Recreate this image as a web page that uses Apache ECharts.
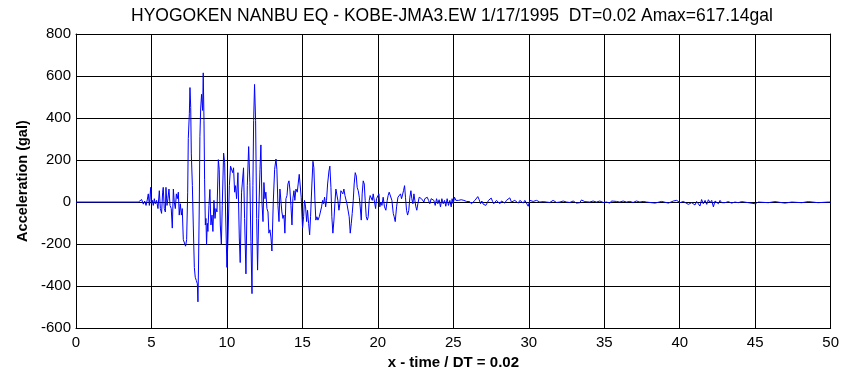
<!DOCTYPE html>
<html>
<head>
<meta charset="utf-8">
<title>KOBE-JMA3.EW</title>
<script src="https://cdn.jsdelivr.net/npm/echarts@6/dist/echarts.min.js"></script>
<style>
  html, body { margin: 0; padding: 0; background: #fff; }
</style>
</head>
<body>
<div id="myChart" style="width: 842px; height: 375px;"></div>
<script>
// time (s) / acceleration (gal)
var tOnset = [0, 4.13, 4.19, 4.26, 4.35, 4.46, 4.55, 4.64, 4.72, 4.79, 4.86, 4.95, 4.99, 5.06, 5.12, 5.19, 5.25, 5.34, 5.43, 5.52, 5.59, 5.67, 5.74, 5.78, 5.85, 5.92, 5.96, 6.03, 6.09, 6.16, 6.23, 6.31, 6.38, 6.45, 6.51, 6.58, 6.65, 6.71, 6.78, 6.84, 6.91, 6.98, 7.04];
var aOnset = [0, 0, 8, -8, 12, -10, 5, -16, 10, 39, -16, 70, -8, 8, -16, 16, -8, 8, -31, 54, -31, -54, 47, 70, -31, -47, 70, -16, 16, 62, -16, -31, -124, 62, 0, -31, 39, 16, 47, -62, -8, -62, -31];

var tPeak = [7.11, 7.18, 7.26, 7.33, 7.40, 7.44, 7.51, 7.55, 7.60, 7.64, 7.71, 7.77, 7.84, 7.90, 7.97, 8.04, 8.08, 8.12, 8.17, 8.21, 8.26, 8.32, 8.39, 8.43, 8.48, 8.52, 8.57, 8.61, 8.65, 8.70, 8.74, 8.81, 8.87];
var aPeak = [-179, -187, -210, -179, 47, 303, 420, 545, 451, 233, 78, -109, -311, -358, -373, -389, -475, -295, 0, 311, 443, 513, 436, 615, 389, 109, -109, -78, -202, -101, -140, -16, 60];

var tStrong = [8.94, 9.01, 9.07, 9.14, 9.21, 9.27, 9.34, 9.43, 9.49, 9.56, 9.63, 9.69, 9.78, 9.85, 9.91, 10.00, 10.07, 10.16, 10.24, 10.33, 10.38, 10.44, 10.51, 10.57, 10.64, 10.73, 10.82, 10.88, 10.97, 11.04, 11.10, 11.17, 11.26, 11.35, 11.44, 11.52, 11.59, 11.66, 11.72, 11.77, 11.83, 11.90, 11.97, 12.03, 12.10, 12.19, 12.25, 12.32, 12.39, 12.45, 12.52, 12.58, 12.65, 12.72, 12.78, 12.85, 12.92, 12.98, 13.07, 13.16, 13.25, 13.31, 13.38, 13.45, 13.51, 13.58, 13.64, 13.71, 13.78, 13.84, 13.91, 13.98, 14.04, 14.11, 14.17, 14.24, 14.31, 14.37, 14.44];
var aStrong = [-109, -62, -140, 8, -78, -31, -47, 202, 156, -109, -202, -16, 233, 187, -47, -311, -171, 78, 171, 179, 140, 163, 47, 78, 16, 140, -171, -288, 47, 47, 163, -78, -342, 78, 264, 93, -187, -436, 78, 389, 560, 389, -78, -324, -78, 156, 272, 0, -93, 93, 16, 47, -31, -47, -148, -132, -171, -233, 0, 156, 205, 156, -16, -93, 62, 70, -47, -78, -62, -148, 16, 31, 86, 101, 62, -16, -109, 16, 54];

var tLate = [14.50, 14.57, 14.66, 14.72, 14.79, 14.86, 14.92, 15.01, 15.08, 15.14, 15.21, 15.28, 15.34, 15.41, 15.48, 15.54, 15.63, 15.70, 15.76, 15.83, 15.89, 15.96, 16.03, 16.12, 16.20, 16.27, 16.34, 16.40, 16.47, 16.54, 16.60, 16.67, 16.76, 16.82, 16.89, 16.95, 17.02, 17.09, 17.15, 17.22, 17.29, 17.35, 17.42, 17.48, 17.55, 17.62, 17.68, 17.75, 17.82, 17.88, 17.95, 18.01, 18.10, 18.17, 18.24, 18.30, 18.37, 18.43, 18.50, 18.57, 18.63, 18.70, 18.77, 18.83, 18.90, 18.96, 19.03, 19.10, 19.16, 19.23, 19.30, 19.36, 19.43, 19.49, 19.56, 19.63, 19.69, 19.78];
var aLate = [8, 62, 47, 86, 132, 140, 23, -124, -70, 8, -23, -93, -39, -101, -156, -70, 86, 194, 163, 8, -86, -70, -86, -70, -70, -23, 8, -8, 23, -23, 8, 86, 148, 171, 70, -70, -148, -86, -8, 62, 70, 8, -39, -8, 54, 62, 39, 62, 31, 39, -8, -8, -70, -148, -101, -54, 8, 86, 140, 124, 70, 54, 23, -23, -86, 39, 101, 86, 8, -70, -86, -70, 8, 31, 31, 8, 39, 39];

var tCoda = [19.85, 19.91, 20.00, 20.07, 20.13, 20.20, 20.27, 20.35, 20.44, 20.53, 20.62, 20.68, 20.75, 20.84, 20.93, 21.02, 21.08, 21.15, 21.24, 21.33, 21.41, 21.50, 21.57, 21.63, 21.70, 21.77, 21.83, 21.90, 21.97, 22.05, 22.12, 22.19, 22.25, 22.32, 22.39, 22.45, 22.52, 22.58, 22.65, 22.74, 22.83, 22.89, 22.96, 23.05, 23.11, 23.18, 23.27, 23.36, 23.44, 23.53, 23.62, 23.71, 23.80, 23.89, 23.97, 24.06, 24.15, 24.24, 24.33, 24.42, 24.50, 24.59, 24.68, 24.77, 24.86, 24.92, 24.99, 25.08, 25.17, 25.26, 25.34, 25.43, 25.52, 25.61, 25.70, 25.79];
var aCoda = [-31, 16, 8, 39, -23, 0, -16, 23, -23, -39, 8, 31, 47, 54, 8, -54, -70, -93, -23, 23, 31, 39, 16, 8, 54, 78, 23, -39, -62, -39, 23, 54, 16, -8, 39, 8, -23, -39, -8, 23, 31, 16, 23, 0, 16, 8, 23, 8, -8, 16, 8, 8, -16, 16, -8, 11, -23, 16, -8, 8, -20, 16, -16, 8, -23, 16, -8, 23, 8, 0, 8, 2, 11, 5, 8, 0];

var tTail = [25.87, 25.98, 26.09, 26.20, 26.32, 26.43, 26.54, 26.62, 26.71, 26.80, 26.89, 26.98, 27.07, 27.15, 27.24, 27.33, 27.42, 27.51, 27.60, 27.68, 27.77, 27.86, 27.97, 28.08, 28.19, 28.30, 28.41, 28.52, 28.63, 28.74, 28.85, 28.96, 29.07, 29.19, 29.30, 29.41, 29.52, 29.63, 29.74, 29.85, 29.96, 30.07, 30.18, 30.29, 30.40, 30.51, 30.62, 30.73, 30.84, 30.95, 31.06, 31.17, 31.28, 31.39, 31.50, 31.61, 31.84, 32.06, 32.28, 32.50, 32.61, 32.72, 32.94, 33.16, 33.27, 33.38, 33.49, 33.60, 33.71, 33.82, 34.04, 34.26, 34.48, 34.71, 34.93, 35.15, 35.26, 35.37, 35.48, 35.59, 35.81, 36.03, 36.25, 36.47, 36.69, 36.91, 37.13, 37.36, 37.58, 37.80];
var aTail = [3, -5, 2, -8, 0, 8, 16, 26, 12, -8, 5, -10, -3, -16, -5, 8, 16, 19, 3, -8, 0, 8, 16, -8, 5, 11, -5, 8, 14, 20, 0, -8, 8, 5, -5, 8, 14, -5, 8, 0, -20, 8, 14, 3, -3, 8, 14, 0, 5, 2, 8, 0, 5, -2, 5, 8, -2, 0, 5, 0, 8, -2, 5, -5, -14, -3, 10, 12, 2, 5, 0, 5, 0, 5, -2, 0, 8, -5, 5, 0, 3, 0, 5, 0, 3, -2, 5, 0, 3, 0];

var tEnd = [37.92, 38.36, 38.80, 39.25, 39.58, 39.80, 40.02, 40.24, 40.57, 40.79, 41.01, 41.12, 41.23, 41.34, 41.45, 41.56, 41.68, 41.79, 41.90, 42.01, 42.12, 42.23, 42.34, 42.45, 42.56, 42.67, 42.78, 42.89, 43.00, 43.22, 43.44, 43.66, 43.88, 44.10, 44.55, 44.99, 45.21, 45.87, 46.31, 46.97, 47.42, 48.08, 48.52, 49.18, 49.85, 50.00];
var aEnd = [3, -5, 3, -5, 5, 8, -3, 3, -11, -3, -14, 3, 8, -19, 12, -8, 8, -11, 11, -3, 8, -23, 5, 12, -8, 8, -3, 5, -3, 2, -5, 0, -3, 2, -3, -8, 0, -3, 2, -5, 0, -3, 2, -3, 0, 0];

var xTicks = [0, 5, 10, 15, 20, 25, 30, 35, 40, 45, 50];
var yTicks = [-600, -400, -200, 0, 200, 400, 600, 800];

var titleText = 'HYOGOKEN NANBU EQ - KOBE-JMA3.EW 1/17/1995  DT=0.02 Amax=617.14gal';

var pieces = [[tOnset, aOnset], [tPeak, aPeak], [tStrong, aStrong], [tLate, aLate], [tCoda, aCoda], [tTail, aTail], [tEnd, aEnd]];
var seriesData = [];
for (var p = 0; p < pieces.length; p++) {
  for (var i = 0; i < pieces[p][0].length; i++) {
    seriesData.push([pieces[p][0][i], pieces[p][1][i]]);
  }
}

var font = 'Liberation Sans';
var myChart = echarts.init(document.getElementById('myChart'), null, {renderer: 'canvas'});

var gridLine = {show: true, lineStyle: {color: '#000', width: 1}};
var boxLine = {show: true, onZero: false, lineStyle: {color: '#000', width: 1}};

myChart.setOption({
  animation: false,
  backgroundColor: '#fff',
  title: {
    text: titleText,
    left: 131,
    top: 7,
    padding: 0,
    textStyle: {fontFamily: font, fontSize: 17.5, fontWeight: 'normal', color: '#000'}
  },
  grid: {left: 76, right: 11, top: 34, bottom: 41, containLabel: false},
  xAxis: [{
    type: 'value',
    min: xTicks[0],
    max: xTicks[xTicks.length - 1],
    interval: 5,
    name: 'x - time / DT = 0.02',
    nameLocation: 'middle',
    nameGap: 26,
    nameTextStyle: {fontFamily: font, fontSize: 15, fontWeight: 'bold', color: '#000'},
    axisLine: boxLine,
    axisTick: {show: true, inside: true, length: 4, lineStyle: {color: '#000'}},
    axisLabel: {margin: 7, fontFamily: font, fontSize: 15, color: '#000'},
    splitLine: gridLine
  }, {
    type: 'value',
    position: 'top',
    min: xTicks[0],
    max: xTicks[xTicks.length - 1],
    interval: 5,
    axisLine: boxLine,
    axisTick: {show: true, inside: true, length: 4, lineStyle: {color: '#000'}},
    axisLabel: {show: false},
    splitLine: {show: false}
  }],
  yAxis: [{
    type: 'value',
    min: yTicks[0],
    max: yTicks[yTicks.length - 1],
    interval: 200,
    name: 'Acceleration (gal)',
    nameLocation: 'middle',
    nameGap: 46,
    nameTextStyle: {fontFamily: font, fontSize: 14.5, fontWeight: 'bold', color: '#000'},
    axisLine: boxLine,
    axisTick: {show: true, inside: true, length: 4, lineStyle: {color: '#000'}},
    axisLabel: {margin: 5, fontFamily: font, fontSize: 15, color: '#000'},
    splitLine: gridLine
  }, {
    type: 'value',
    position: 'right',
    min: yTicks[0],
    max: yTicks[yTicks.length - 1],
    interval: 200,
    axisLine: boxLine,
    axisTick: {show: true, inside: true, length: 4, lineStyle: {color: '#000'}},
    axisLabel: {show: false},
    splitLine: {show: false}
  }],
  series: [{
    name: 'KOBE-JMA3.EW',
    type: 'line',
    xAxisIndex: 0,
    yAxisIndex: 0,
    data: seriesData,
    showSymbol: false,
    symbol: 'none',
    lineStyle: {color: '#0000ff', width: 1},
    z: 5
  }]
});
</script>
</body>
</html>
